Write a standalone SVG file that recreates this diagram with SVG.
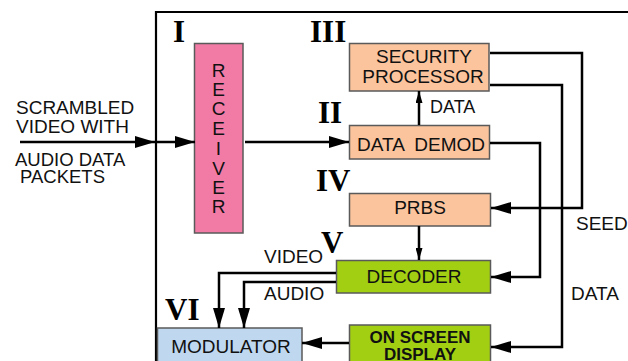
<svg xmlns="http://www.w3.org/2000/svg" width="628" height="361" viewBox="0 0 628 361">
<defs>
<style>
.t{font-family:"Liberation Sans",Arial,sans-serif;font-size:19px;fill:#111}
.tb{font-family:"Liberation Sans",Arial,sans-serif;font-size:17px;font-weight:bold;fill:#111}
.rn{font-family:"Liberation Serif","Times New Roman",serif;font-size:31px;font-weight:bold;fill:#000}
.box{stroke:#5a5a5a;stroke-width:1.5}
.peach{fill:#FBC49D}
.green{fill:#A2CF12}
.pink{fill:#F27BA6}
.blue{fill:#BFD8F0}
.c{fill:none;stroke:#000;stroke-width:2.5}
</style>
<marker id="ah" viewBox="0 0 20 12" refX="20" refY="6" markerWidth="20" markerHeight="12" markerUnits="userSpaceOnUse" orient="auto"><path d="M0,0 L20,6 L0,12 z" fill="#000"/></marker>
<marker id="as" viewBox="0 0 12 7" refX="12" refY="3.5" markerWidth="12" markerHeight="7" markerUnits="userSpaceOnUse" orient="auto"><path d="M0,0 L12,3.5 L0,7 z" fill="#000"/></marker>
</defs>
<rect width="628" height="361" fill="#fff"/>
<g id="frame"><path d="M156,361 V12 H628" fill="none" stroke="#000" stroke-width="2.2"/></g>
<g id="input-label">
<text class="t" x="16" y="114">SCRAMBLED</text>
<text class="t" x="16" y="133">VIDEO WITH</text>
<text class="t" x="15" y="166" style="font-size:18.5px">AUDIO DATA</text>
<text class="t" x="20" y="183" style="font-size:18.5px">PACKETS</text>
</g>
<g id="receiver">
<rect class="box pink" x="194.5" y="43.5" width="48.5" height="189.5"/>
<g class="t" text-anchor="middle">
<text x="218.5" y="77">R</text><text x="218.5" y="96">E</text><text x="218.5" y="115">C</text><text x="218.5" y="135">E</text><text x="218.5" y="155">I</text><text x="218.5" y="175">V</text><text x="218.5" y="194">E</text><text x="218.5" y="213">R</text>
</g>
<text class="rn" x="173" y="42">I</text>
</g>
<g id="security-processor">
<rect class="box peach" x="349.5" y="43.5" width="139.5" height="47.5"/>
<text class="t" x="424" y="63" text-anchor="middle">SECURITY</text>
<text class="t" x="423" y="83" text-anchor="middle">PROCESSOR</text>
<text class="rn" x="310" y="42">III</text>
</g>
<g id="data-demod">
<rect class="box peach" x="349.5" y="125.5" width="140" height="33.5"/>
<text class="t" x="421" y="151" text-anchor="middle" xml:space="preserve" style="white-space:pre">DATA  DEMOD</text>
<text class="rn" x="318" y="123">II</text>
</g>
<g id="prbs">
<rect class="box peach" x="349.5" y="193.5" width="141" height="32.5"/>
<text class="t" x="420" y="214" text-anchor="middle">PRBS</text>
<text class="rn" x="316" y="191">IV</text>
</g>
<g id="decoder">
<rect class="box green" x="336.5" y="260.5" width="154" height="32.5"/>
<text class="t" x="414" y="283" text-anchor="middle">DECODER</text>
<text class="rn" x="321" y="253">V</text>
</g>
<g id="modulator">
<rect class="box blue" x="157.5" y="328" width="144.5" height="40"/>
<text class="t" x="231" y="353" text-anchor="middle">MODULATOR</text>
<text class="rn" x="165" y="320">VI</text>
</g>
<g id="on-screen-display">
<rect class="box green" x="349.5" y="325" width="141" height="45"/>
<text class="tb" x="420" y="343" text-anchor="middle">ON SCREEN</text>
<text class="tb" x="420" y="360" text-anchor="middle">DISPLAY</text>
</g>
<g id="connectors">
<path class="c" d="M20,142 H155" marker-end="url(#ah)"/>
<path class="c" d="M156,142 H195" marker-end="url(#ah)"/>
<path class="c" d="M245,142 H349" marker-end="url(#ah)"/>
<path class="c" d="M419,125 V91" marker-end="url(#as)"/>
<path class="c" d="M490,53 H582 V208 H491" marker-end="url(#ah)"/>
<path class="c" d="M490,85 H562 V347 H491" marker-end="url(#ah)"/>
<path class="c" d="M490,143 H540 V277 H491" marker-end="url(#ah)"/>
<path class="c" d="M419,226 V260" marker-end="url(#as)"/>
<path class="c" d="M336,273 H219 V328" marker-end="url(#ah)"/>
<path class="c" d="M336,282 H244 V328" marker-end="url(#ah)"/>
<path class="c" d="M349,343 H302" marker-end="url(#ah)"/>
<text class="t" x="430" y="113" style="font-size:18px">DATA</text>
<text class="t" x="576" y="230">SEED</text>
<text class="t" x="571" y="300">DATA</text>
<text class="t" x="264" y="263">VIDEO</text>
<text class="t" x="264" y="300">AUDIO</text>
</g>
</svg>
